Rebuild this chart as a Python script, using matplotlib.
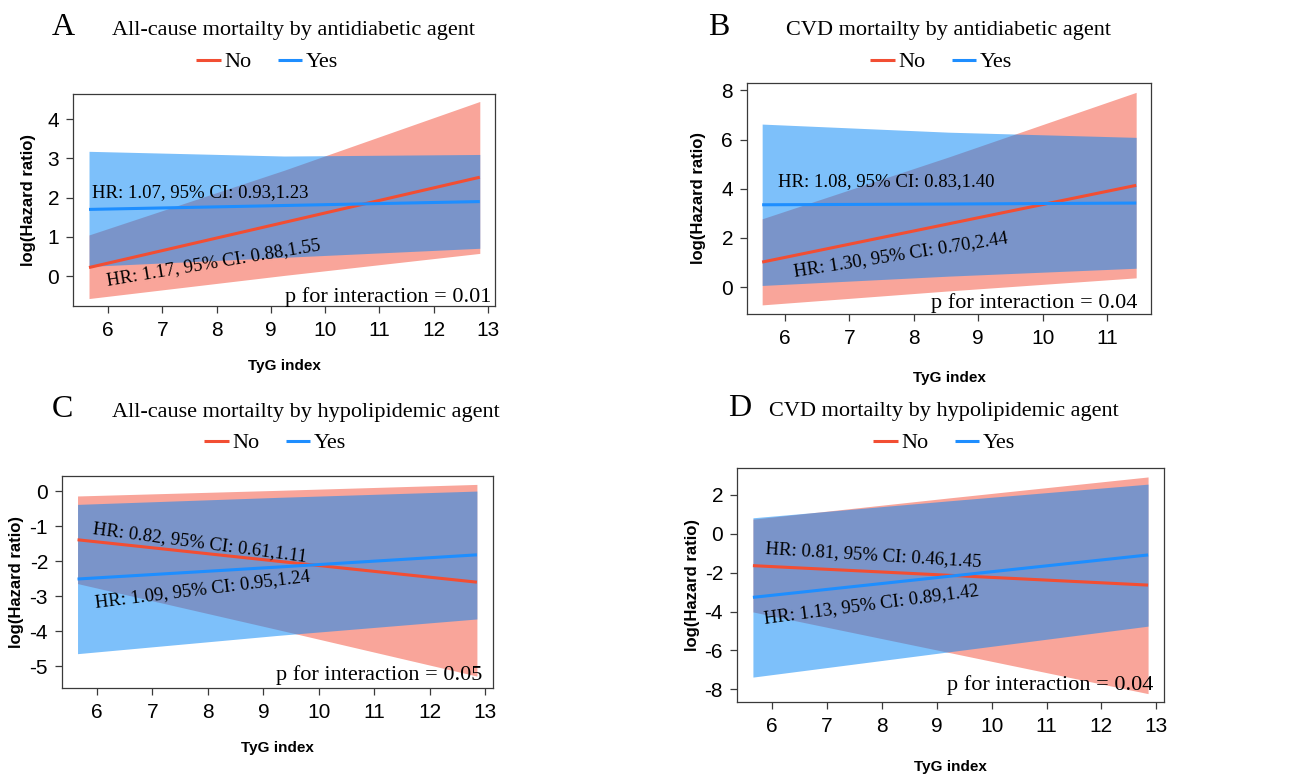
import numpy as np
import matplotlib
matplotlib.use("Agg")
import matplotlib.pyplot as plt

# figure size in pixels
W = 1301
H = 775

SERIF = ['Liberation Serif', 'DejaVu Serif']
SANS = ['Liberation Sans', 'DejaVu Sans']

plt.rcParams['axes.unicode_minus'] = False

RED_LINE = '#F24E33'
BLUE_LINE = '#1E8EFF'
RED_FILL = '#F9A59A'
BLUE_FILL = '#0686F6'

# ---- data ----
# A : all-cause mortality by antidiabetic agent
A_x = [5.65, 9.25, 12.85]
A_no = [0.22, 1.37, 2.52]
A_no_lo = [-0.57, 0.02, 0.58]
A_no_hi = [1.05, 2.70, 4.45]
A_yes = [1.70, 1.80, 1.90]
A_yes_lo = [0.25, 0.48, 0.71]
A_yes_hi = [3.18, 3.06, 3.10]

# B : CVD mortality by antidiabetic agent
B_x = [5.65, 8.55, 11.45]
B_no = [1.02, 2.58, 4.14]
B_no_lo = [-0.72, -0.15, 0.38]
B_no_hi = [2.78, 5.30, 7.92]
B_yes = [3.35, 3.38, 3.42]
B_yes_lo = [0.07, 0.45, 0.77]
B_yes_hi = [6.63, 6.30, 6.09]

# C : all-cause mortality by hypolipidemic agent
C_x = [5.65, 9.25, 12.85]
C_no = [-1.39, -2.00, -2.60]
C_no_lo = [-2.64, -3.95, -5.28]
C_no_hi = [-0.14, 0.02, 0.19]
C_yes = [-2.51, -2.17, -1.82]
C_yes_lo = [-4.64, -4.12, -3.65]
C_yes_hi = [-0.38, -0.18, 0.00]

# D : CVD mortality by hypolipidemic agent
D_x = [5.65, 9.25, 12.85]
D_no = [-1.64, -2.14, -2.64]
D_no_lo = [-4.02, -6.12, -8.22]
D_no_hi = [0.75, 1.85, 2.92]
D_yes = [-3.27, -2.18, -1.09]
D_yes_lo = [-7.37, -6.06, -4.75]
D_yes_hi = [0.82, 1.70, 2.55]

LETTERS = ['A', 'B', 'C', 'D']
TITLES = ['All-cause mortailty by antidiabetic agent',
          'CVD mortailty by antidiabetic agent',
          'All-cause mortailty by hypolipidemic agent',
          'CVD mortailty by hypolipidemic agent']
HR_NO = ['HR: 1.17, 95% CI: 0.88,1.55', 'HR: 1.30, 95% CI: 0.70,2.44',
         'HR: 0.82, 95% CI: 0.61,1.11', 'HR: 0.81, 95% CI: 0.46,1.45']
HR_YES = ['HR: 1.07, 95% CI: 0.93,1.23', 'HR: 1.08, 95% CI: 0.83,1.40',
          'HR: 1.09, 95% CI: 0.95,1.24', 'HR: 1.13, 95% CI: 0.89,1.42']
P_TEXT = ['p for interaction = 0.01', 'p for interaction = 0.04',
          'p for interaction = 0.05', 'p for interaction = 0.04']
XTICKS = [range(6, 14), range(6, 12), range(6, 14), range(6, 14)]
YTICKS = [[0, 1, 2, 3, 4], [0, 2, 4, 6, 8], [0, -1, -2, -3, -4, -5],
          [2, 0, -2, -4, -6, -8]]

# ---- layout (pixels) ----
# axes box: left, top, right, bottom
BOX = [(73, 94, 495, 306), (747, 83, 1151, 314),
       (62, 476, 493, 688), (737, 468, 1164, 702)]
XLIM = [(5.355, 13.13), (5.415, 11.68), (5.37, 13.14), (5.36, 13.14)]
YLIM = [(-0.76, 4.64), (-1.09, 8.3), (-5.62, 0.43), (-8.65, 3.38)]
LETTER_POS = [(52, 35), (708, 35), (52, 417), (728, 416)]
TITLE_POS = [(293, 35), (948, 35), (306, 417), (944, 416)]
LEGEND_POS = [(267, 62), (941, 62), (275, 443), (944, 443)]
XLAB_OFF = [53, 57, 53, 58]
YLAB_OFF = [37, 41, 38, 37]
# text anchors: (x, y, rotation) in data units
NO_TXT = [(6.0, -0.23, 9.5), (6.155, 0.43, 9), (5.91, -1.21, -7.5), (5.87, -1.0, -3.5)]
YES_TXT = [(5.7, 2.02, 0), (5.9, 4.09, 0), (5.97, -3.31, 7), (5.87, -4.61, 7.5)]
P_POS = [(13.07, -0.65), (11.47, -0.85), (12.94, -5.4), (12.94, -8.05)]

PANELS = [
    (A_x, A_no, A_no_lo, A_no_hi, A_yes, A_yes_lo, A_yes_hi),
    (B_x, B_no, B_no_lo, B_no_hi, B_yes, B_yes_lo, B_yes_hi),
    (C_x, C_no, C_no_lo, C_no_hi, C_yes, C_yes_lo, C_yes_hi),
    (D_x, D_no, D_no_lo, D_no_hi, D_yes, D_yes_lo, D_yes_hi),
]

fig = plt.figure(figsize=(W / 100, H / 100), dpi=100)


def px_axes(l, t, r, b):
    return fig.add_axes([l / W, 1 - b / H, (r - l) / W, (b - t) / H])


def draw_panel(i):
    x, no, no_lo, no_hi, yes, yes_lo, yes_hi = PANELS[i]
    l, t, r, b = BOX[i]
    ax = px_axes(l, t, r, b)

    ax.fill_between(x, no_lo, no_hi, color=RED_FILL, lw=0)
    ax.fill_between(x, yes_lo, yes_hi, color=BLUE_FILL, alpha=0.52, lw=0)
    line_no, = ax.plot(x, no, color=RED_LINE, lw=2.2, solid_capstyle='butt')
    line_yes, = ax.plot(x, yes, color=BLUE_LINE, lw=2.2, solid_capstyle='butt')

    ax.set_xlim(XLIM[i])
    ax.set_ylim(YLIM[i])
    ax.set_xticks(list(XTICKS[i]))
    ax.set_yticks(YTICKS[i])
    for s in ax.spines.values():
        s.set_color('#3a3a3a')
        s.set_linewidth(0.9)
    ax.tick_params(direction='out', length=5, width=0.9, color='#3a3a3a',
                   labelsize=15, pad=5)
    ax.tick_params(axis='x', pad=6)
    for lab in ax.get_xticklabels() + ax.get_yticklabels():
        lab.set_family(SANS)

    ax.set_xlabel('TyG index', family=SANS, fontweight='bold', fontsize=11)
    ax.set_ylabel('log(Hazard ratio)', family=SANS, fontweight='bold', fontsize=12)
    ax.xaxis.set_label_coords(0.5, -XLAB_OFF[i] / (b - t))
    ax.yaxis.set_label_coords(-YLAB_OFF[i] / (r - l), 0.5)

    tx, ty, rot = YES_TXT[i]
    ax.text(tx, ty, HR_YES[i], family=SERIF, fontsize=13.5, rotation=rot,
            rotation_mode='anchor', ha='left', va='baseline')
    tx, ty, rot = NO_TXT[i]
    ax.text(tx, ty, HR_NO[i], family=SERIF, fontsize=13.5, rotation=rot,
            rotation_mode='anchor', ha='left', va='baseline')
    ax.text(P_POS[i][0], P_POS[i][1], P_TEXT[i], family=SERIF, fontsize=16,
            ha='right', va='baseline')

    fig.text(LETTER_POS[i][0] / W, 1 - LETTER_POS[i][1] / H, LETTERS[i],
             family=SERIF, fontsize=23, ha='left', va='baseline')
    fig.text(TITLE_POS[i][0] / W, 1 - TITLE_POS[i][1] / H, TITLES[i],
             family=SERIF, fontsize=16, ha='center', va='baseline')
    fig.legend([line_no, line_yes], ['No', 'Yes'], loc='center',
               bbox_to_anchor=(LEGEND_POS[i][0] / W, 1 - LEGEND_POS[i][1] / H),
               ncol=2, frameon=False, handlelength=1.1, handletextpad=0.15,
               columnspacing=1.2, borderpad=0, prop={'family': SERIF, 'size': 16})


for i in range(4):
    draw_panel(i)

fig.savefig('out.png', dpi=100)
